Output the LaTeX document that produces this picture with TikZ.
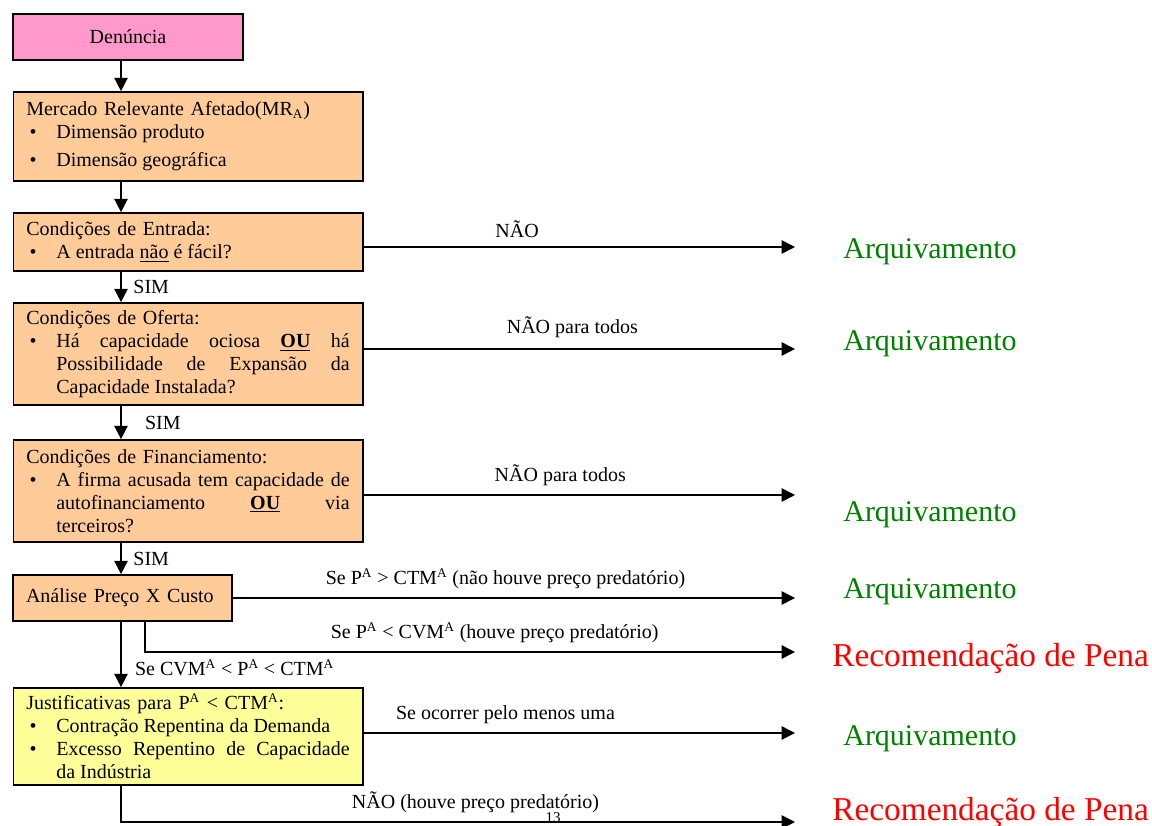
\documentclass[tikz,border=0pt]{standalone}
\usepackage{fontspec}
\setmainfont{Liberation Serif}
\usepackage{tikz}
\usetikzlibrary{arrows.meta, positioning}
\definecolor{rosa}{RGB}{255,153,204}
\definecolor{laranja}{RGB}{255,204,153}
\definecolor{amarelo}{RGB}{255,255,153}
\definecolor{verde}{RGB}{0,128,0}
\definecolor{vermelho}{RGB}{255,0,0}
\newcommand{\letra}{\fontsize{12}{13.8}\selectfont}
\newcommand{\topico}[1]{\makebox[18pt][l]{\hspace{2pt}\textbullet}\parbox[t]{176pt}{\spaceskip=0pt \xspaceskip=0pt \rightskip=0pt \parfillskip=0pt plus 1fil\relax #1}}
\tikzstyle{caixa}  = [draw, line width=1pt, fill=laranja, text width=194pt, inner xsep=7.8pt, align=left, font=\letra]
\tikzstyle{seta}   = [line width=0.9pt, -{Triangle[length=8pt, width=8pt]}]
\tikzstyle{rotulo} = [font=\letra, inner sep=1pt]
\tikzstyle{arq}    = [text=verde, font=\fontsize{18}{20}\selectfont, anchor=west, inner sep=0pt]
\tikzstyle{pena}   = [text=vermelho, font=\fontsize{20}{22}\selectfont, anchor=west, inner sep=0pt]

\begin{document}
\begin{tikzpicture}[x=0.6pt, y=-0.6pt]
\useasboundingbox (0,0) rectangle (1152,826);

% nodes
\node [caixa, fill=rosa, text width=122.4pt, align=center, minimum height=27.6pt] at (128  ,  37  ) (den) {Denúncia};
\node [caixa, minimum height=53.4pt] at (188  , 136.5) (mr)  {Mercado Relevante Afetado(MR\textsubscript{A})\\ \topico{Dimensão produto}\\[3pt] \topico{Dimensão geográfica}};
\node [caixa, minimum height=34.8pt] at (188  , 242  ) (ent) {Condições de Entrada:\\ \topico{A entrada \underline{não} é fácil?}};
\node [caixa, minimum height=61.2pt] at (188  , 354  ) (ofe) {Condições de Oferta:\\ \topico{Há capacidade ociosa \textbf{\underline{OU}} há\linebreak Possibilidade de Expansão da\linebreak Capacidade Instalada?}};
\node [caixa, minimum height=61.2pt] at (188  , 491  ) (fin) {Condições de Financiamento:\\ \topico{A firma acusada tem capacidade de\linebreak autofinanciamento \textbf{\underline{OU}} via\linebreak terceiros?}};
\node [caixa, text width=115.8pt, minimum height=27.6pt] at (122.5, 598  ) (ana) {Análise Preço X Custo};
\node [caixa, fill=amarelo, minimum height=58.2pt] at (188  , 736.5) (jus) {Justificativas para P\textsuperscript{A} < CTM\textsuperscript{A}:\\ \topico{Contração Repentina da Demanda}\\ \topico{Excesso Repentino de Capacidade\linebreak da Indústria}};

\node [arq]  at (843, 252) (arq1) {Arquivamento};
\node [arq]  at (843, 344) (arq2) {Arquivamento};
\node [arq]  at (843, 515) (arq3) {Arquivamento};
\node [arq]  at (843, 592) (arq4) {Arquivamento};
\node [pena] at (832, 658) (pen1) {Recomendação de Pena};
\node [arq]  at (843, 739) (arq5) {Arquivamento};
\node [pena] at (832, 812) (pen2) {Recomendação de Pena};
\node [font=\fontsize{9}{9}\selectfont, inner sep=0pt] at (553, 818) (pag) {13};

\coordinate (eixo) at (121, 0);
\coordinate (ramo) at (145, 0);
\coordinate (s1) at (795, 247);
\coordinate (s2) at (795, 349);
\coordinate (s3) at (795, 495);
\coordinate (s4) at (795, 598);
\coordinate (s5) at (795, 652);
\coordinate (s6) at (795, 733);
\coordinate (s7) at (795, 822);

% edges
\path [seta] (den.south -| eixo) edge                                        (mr.north -| eixo)
             (mr.south -| eixo)  edge                                        (ent.north -| eixo)
             (ent.south -| eixo) edge node [rotulo, right=6pt]  {SIM}        (ofe.north -| eixo)
             (ofe.south -| eixo) edge node [rotulo, right=13pt] {SIM}        (fin.north -| eixo)
             (fin.south -| eixo) edge node [rotulo, right=6pt]  {SIM}        (ana.north -| eixo)
             (ana.south -| eixo) edge node [rotulo, right=7pt, pos=0.7] {Se CVM\textsuperscript{A} < P\textsuperscript{A} < CTM\textsuperscript{A}} (jus.north -| eixo)
             (ent.east |- s1)    edge node [rotulo, above=4pt, pos=0.356] {NÃO}            (s1)
             (ofe.east |- s2)    edge node [rotulo, above=5pt, pos=0.484] {NÃO para todos} (s2)
             (fin.east |- s3)    edge node [rotulo, above=4pt, pos=0.456] {NÃO para todos} (s3)
             (ana.east |- s4)    edge node [rotulo, above=4pt, pos=0.485] {Se P\textsuperscript{A} > CTM\textsuperscript{A} (não houve preço predatório)} (s4)
             (jus.east |- s6)    edge node [rotulo, above=4pt, pos=0.329] {Se ocorrer pelo menos uma} (s6);

\draw [seta] (ana.south -| ramo) |- node [rotulo, above=4pt, pos=0.769] {Se P\textsuperscript{A} < CVM\textsuperscript{A} (houve preço predatório)} (s5);
\draw [seta] (jus.south -| eixo) |- node [rotulo, above=4pt, pos=0.763] {NÃO (houve preço predatório)} (s7);

\end{tikzpicture}
\end{document}
